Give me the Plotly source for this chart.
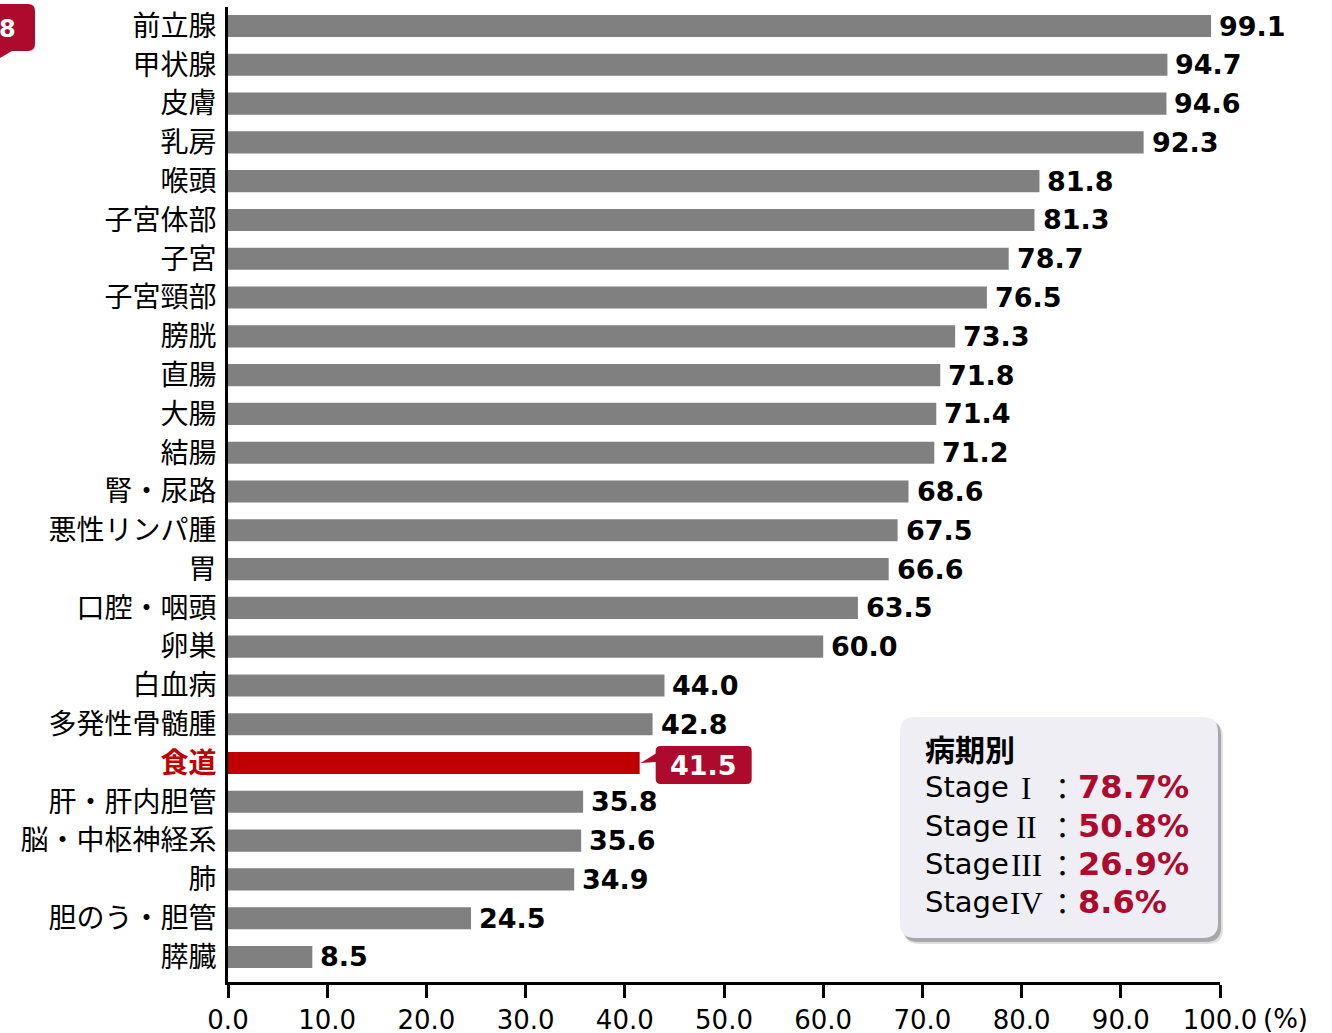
import plotly.graph_objects as go

# ---------------- data ----------------
categories = ["前立腺", "甲状腺", "皮膚", "乳房", "喉頭", "子宮体部", "子宮", "子宮頸部",
              "膀胱", "直腸", "大腸", "結腸", "腎・尿路", "悪性リンパ腫", "胃", "口腔・咽頭",
              "卵巣", "白血病", "多発性骨髄腫", "食道", "肝・肝内胆管", "脳・中枢神経系",
              "肺", "胆のう・胆管", "膵臓"]
values = [99.1, 94.7, 94.6, 92.3, 81.8, 81.3, 78.7, 76.5, 73.3, 71.8, 71.4, 71.2, 68.6,
          67.5, 66.6, 63.5, 60.0, 44.0, 42.8, 41.5, 35.8, 35.6, 34.9, 24.5, 8.5]
highlight = "食道"
x_ticks = [0, 10, 20, 30, 40, 50, 60, 70, 80, 90, 100]
x_ticklabels = ["0.0", "10.0", "20.0", "30.0", "40.0", "50.0", "60.0", "70.0", "80.0", "90.0", "100.0"]
stage_title = "病期別"
stage_names = ["I", "II", "III", "IV"]
stage_values = ["78.7%", "50.8%", "26.9%", "8.6%"]
badge_text = "8"

# ---------------- styling ----------------
W, H = 1332, 1033
L, R, T, B = 228, 112, 7, 51
PW, PH = W - L - R, H - T - B
GRAY = "#808080"
RED = "#C00000"
CRIMSON = "#AE0A2E"
JP = "Noto Sans CJK JP"
LAT = "DejaVu Sans"
SERIF = "Liberation Serif"

n = len(categories)
idx = list(range(n))
Y_RANGE = [24.645, -0.49]
ypx_per_unit = PH / (Y_RANGE[0] - Y_RANGE[1])
xpx_per_unit = PW / 100.0


def px(x):
    return (x - L) / PW


def py(y):
    return (H - B - y) / PH


colors = [RED if c == highlight else GRAY for c in categories]
ticktext = [f"<b><span style='color:{RED}'>{c}</span></b>" if c == highlight else c
            for c in categories]

fig = go.Figure(go.Bar(x=values, y=idx, orientation="h", marker=dict(color=colors, line=dict(width=0)),
                       width=0.57, hoverinfo="skip"))

annotations = []
shapes = []

# value labels
for i, (c, v) in enumerate(zip(categories, values)):
    if c == highlight:
        continue
    annotations.append(dict(x=v, y=i, xref="x", yref="y", text=f"{v:.1f}", showarrow=False,
                            xanchor="left", yanchor="middle", xshift=6, yshift=0,
                            font=dict(family=LAT, size=27, color="black", weight="bold")))

# callout for highlighted bar (drawn in data coordinates)
hi = categories.index(highlight)
hv = values[hi]


def dx(p):
    return hv + p / xpx_per_unit


def dy(p):
    return hi + p / ypx_per_unit


def rr_path(cx, cy, x0, y0, x1, y1, r):
    return (f"M{cx(x0 + r)},{cy(y0)} L{cx(x1 - r)},{cy(y0)} Q{cx(x1)},{cy(y0)} {cx(x1)},{cy(y0 + r)} "
            f"L{cx(x1)},{cy(y1 - r)} Q{cx(x1)},{cy(y1)} {cx(x1 - r)},{cy(y1)} "
            f"L{cx(x0 + r)},{cy(y1)} Q{cx(x0)},{cy(y1)} {cx(x0)},{cy(y1 - r)} "
            f"L{cx(x0)},{cy(y0 + r)} Q{cx(x0)},{cy(y0)} {cx(x0 + r)},{cy(y0)} Z")


shapes.append(dict(type="path", xref="x", yref="y", layer="above",
                   path=rr_path(dx, dy, 16, -17, 112, 21, 5),
                   fillcolor=CRIMSON, line=dict(width=0)))
shapes.append(dict(type="path", xref="x", yref="y", layer="above",
                   path=f"M{dx(1)},{dy(0)} L{dx(17)},{dy(-10)} L{dx(17)},{dy(-1)} Z",
                   fillcolor=CRIMSON, line=dict(width=0)))
annotations.append(dict(x=dx(64), y=dy(2), xref="x", yref="y", text=f"{hv:.1f}", showarrow=False,
                        xanchor="center", yanchor="middle",
                        font=dict(family=LAT, size=27, color="white", weight="bold")))

# stage box (paper coords from pixel positions)
def ppath(x0, y0, x1, y1, r):
    return rr_path(px, py, x0, y0, x1, y1, r)


shapes.append(dict(type="path", xref="paper", yref="paper", layer="above",
                   path=ppath(904, 722, 1223, 944, 15), fillcolor="rgba(0,0,0,0.12)", line=dict(width=0)))
shapes.append(dict(type="path", xref="paper", yref="paper", layer="above",
                   path=ppath(903, 720, 1221, 942, 15), fillcolor="rgba(0,0,0,0.25)", line=dict(width=0)))
shapes.append(dict(type="path", xref="paper", yref="paper", layer="above",
                   path=ppath(900, 717, 1218, 938, 15), fillcolor="#EFEEF4", line=dict(width=0)))

annotations.append(dict(x=px(923), y=py(748), xref="paper", yref="paper", text=stage_title,
                        showarrow=False, xanchor="left", yanchor="middle",
                        font=dict(family=JP, size=30, color="black", weight="bold")))
stage_y = [787, 826, 864, 902]
for sn, sv, yy in zip(stage_names, stage_values, stage_y):
    annotations.append(dict(x=px(923), y=py(yy), xref="paper", yref="paper", text="Stage",
                            showarrow=False, xanchor="left", yanchor="middle",
                            font=dict(family=LAT, size=29, color="black")))
    annotations.append(dict(x=px(1026), y=py(yy + 1), xref="paper", yref="paper", text=sn,
                            showarrow=False, xanchor="center", yanchor="middle",
                            font=dict(family=SERIF, size=31, color="black")))
    annotations.append(dict(x=px(1062), y=py(yy), xref="paper", yref="paper", text="：",
                            showarrow=False, xanchor="center", yanchor="middle",
                            font=dict(family=JP, size=29, color="black")))
    annotations.append(dict(x=px(1076), y=py(yy), xref="paper", yref="paper", text=sv,
                            showarrow=False, xanchor="left", yanchor="middle",
                            font=dict(family=LAT, size=32, color=CRIMSON, weight="bold")))

# (%) unit
annotations.append(dict(x=px(1261), y=py(1019), xref="paper", yref="paper", text="(%)",
                        showarrow=False, xanchor="left", yanchor="middle",
                        font=dict(family=LAT, size=26, color="black")))

# badge at top-left
shapes.append(dict(type="path", xref="paper", yref="paper", layer="above",
                   path=(f"M{px(-10)},{py(4)} L{px(28)},{py(4)} Q{px(35)},{py(4)} {px(35)},{py(11)} "
                         f"L{px(35)},{py(44)} Q{px(35)},{py(51)} {px(28)},{py(51)} "
                         f"L{px(12)},{py(51)} L{px(0)},{py(58)} L{px(-10)},{py(58)} Z"),
                   fillcolor=CRIMSON, line=dict(width=0)))
annotations.append(dict(x=px(7), y=py(29), xref="paper", yref="paper", text=badge_text,
                        showarrow=False, xanchor="center", yanchor="middle",
                        font=dict(family=LAT, size=24, color="white", weight="bold")))

fig.update_layout(
    width=W, height=H,
    margin=dict(l=L, r=R, t=T, b=B, pad=0, autoexpand=False),
    plot_bgcolor="white", paper_bgcolor="white",
    showlegend=False,
    xaxis=dict(range=[0, 100], tickvals=x_ticks, ticktext=x_ticklabels, ticks="outside",
               ticklen=13, tickwidth=3, tickcolor="black", showline=True, linewidth=3,
               linecolor="black", showgrid=False, zeroline=False, automargin=False,
               tickfont=dict(family=LAT, size=26, color="black"), fixedrange=True),
    yaxis=dict(range=Y_RANGE, tickvals=idx, ticktext=ticktext, ticks="", showline=True,
               linewidth=3, linecolor="black", showgrid=False, zeroline=False, automargin=False,
               ticklabelstandoff=3,
               tickfont=dict(family=JP, size=28, color="black"), fixedrange=True),
    annotations=annotations,
    shapes=shapes,
)

fig.write_html("out.html")
